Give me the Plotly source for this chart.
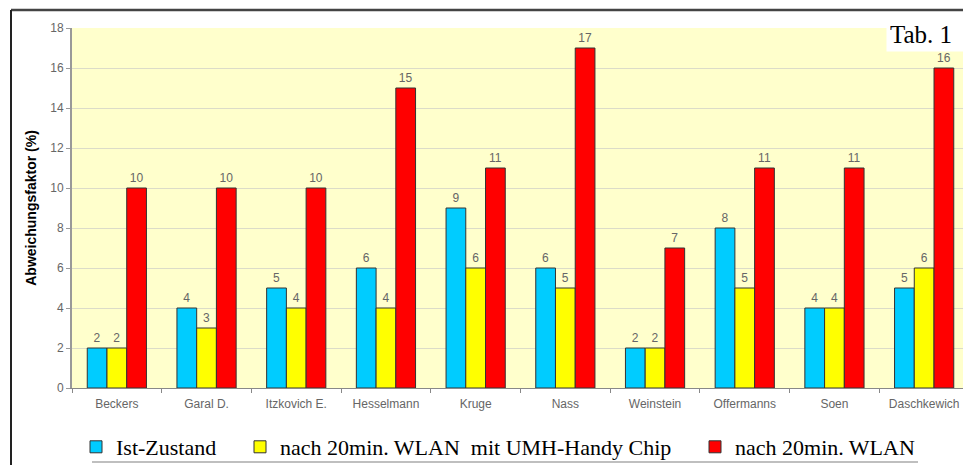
import plotly.graph_objects as go

categories = ["Beckers", "Garal D.", "Itzkovich E.", "Hesselmann", "Kruge",
              "Nass", "Weinstein", "Offermanns", "Soen", "Daschkewich"]
ist_zustand = [2, 4, 5, 6, 9, 6, 2, 8, 4, 5]
mit_chip = [2, 3, 4, 4, 6, 5, 2, 5, 4, 6]
nach_wlan = [10, 10, 10, 15, 11, 17, 7, 11, 11, 16]

series_names = ["Ist-Zustand",
                "nach 20min. WLAN\u00a0 mit UMH-Handy Chip",
                "nach 20min. WLAN"]
colors = ["#00CCFF", "#FFFF00", "#FF0000"]

# the page body has an 8px default margin, so the figure is drawn 8px smaller
OFF = 8
W, H = 971 - OFF, 465 - OFF
fig = go.Figure()
for i, (name, vals, col) in enumerate(zip(series_names, [ist_zustand, mit_chip, nach_wlan], colors)):
    fig.add_trace(go.Bar(
        x=categories, y=vals, name=name,
        marker=dict(color=col, line=dict(color="#333333", width=1)),
        text=[str(v) for v in vals], textposition="outside",
        textfont=dict(family="Arial, Liberation Sans, sans-serif", size=12, color="#666666"),
        cliponaxis=False,
        legend="legend" if i == 0 else f"legend{i+1}",
    ))

legend_font = dict(family="Liberation Serif, Times New Roman, serif", size=22, color="#000000")
leg_common = dict(orientation="h", xref="container", yref="container",
                  yanchor="middle", xanchor="left", font=legend_font,
                  bgcolor="rgba(0,0,0,0)", borderwidth=0)
legend_x = [76, 240, 695]
ly = 1 - (447 - OFF) / H

fig.update_layout(
    width=W, height=H,
    margin=dict(l=72 - OFF, r=W - (969 - OFF), t=28 - OFF, b=H - (388 - OFF)),
    paper_bgcolor="#FFFFFF",
    plot_bgcolor="#FFFFCC",
    barmode="group",
    bargap=0.34,
    bargroupgap=0,
    font=dict(family="Arial, Liberation Sans, sans-serif", color="#666666"),
    legend=dict(x=(legend_x[0] - OFF) / W, y=ly, **leg_common),
    legend2=dict(x=(legend_x[1] - OFF) / W, y=ly, **leg_common),
    legend3=dict(x=(legend_x[2] - OFF) / W, y=ly, **leg_common),
    xaxis=dict(
        type="category",
        showline=True, linecolor="#888888", linewidth=1,
        ticks="outside", tickson="boundaries", ticklen=4, tickcolor="#888888",
        ticklabelstandoff=5,
        tickfont=dict(family="Arial, Liberation Sans, sans-serif", size=12, color="#666666"),
        showgrid=False,
    ),
    yaxis=dict(
        range=[0, 18], dtick=2,
        showline=True, linecolor="#999999", linewidth=2,
        ticks="outside", ticklen=4, tickcolor="#999999",
        tickfont=dict(family="Arial, Liberation Sans, sans-serif", size=12, color="#666666"),
        gridcolor="#DCDCC8", gridwidth=1,
        zeroline=False,
        title=dict(text="Abweichungsfaktor (%)", standoff=10,
                   font=dict(family="Arial, Liberation Sans, sans-serif", size=14, color="#000000", weight="bold")),
    ),
    showlegend=True,
)

# frame lines and separator line (layout decoration)
px_w, px_h = 897, 360
def px(xr):
    return (xr - 72) / px_w
def py(yr):
    return (388 - yr) / px_h

fig.add_shape(type="line", xref="paper", yref="paper",
              x0=px(11), x1=px(975), y0=py(10), y1=py(10),
              line=dict(color="#444444", width=2.5))
fig.add_shape(type="line", xref="paper", yref="paper",
              x0=px(11), x1=px(11), y0=py(10), y1=py(470),
              line=dict(color="#222222", width=2))
fig.add_shape(type="line", xref="paper", yref="paper",
              x0=px(92), x1=px(918), y0=py(462), y1=py(462),
              line=dict(color="#AAAAAA", width=1.5))

fig.add_annotation(
    text="Tab. 1", xref="paper", yref="paper",
    x=px(971), y=py(16), xanchor="right", yanchor="top",
    width=77, height=28, align="left", valign="middle",
    showarrow=False, bgcolor="#FFFFFF", borderpad=3,
    font=dict(family="Liberation Serif, Times New Roman, serif", size=25, color="#000000"),
)

fig.write_html("out.html")
